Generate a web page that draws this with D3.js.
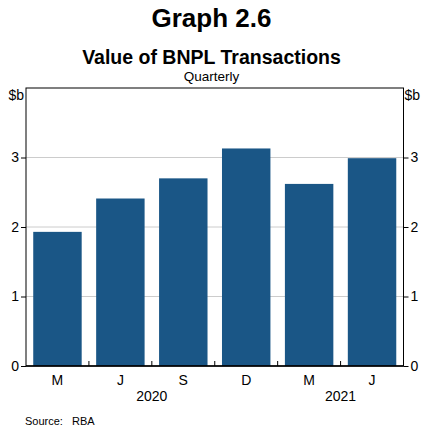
<!DOCTYPE html>
<html>
<head>
<meta charset="utf-8">
<script src="https://cdn.jsdelivr.net/npm/d3@7"></script>
<style>
  body { margin: 0; background: #fff; }
  text { font-family: "Liberation Sans", Arial, sans-serif; fill: #000; }
</style>
</head>
<body>
<svg id="chart" width="423" height="433"></svg>
<script>
// Quarterly value of buy-now-pay-later transactions, $ billion
const quarters = ["M", "J", "S", "D", "M", "J"];
const years = ["2020", "2021"];
const yearBoundaryIndex = [2, 5]; // year label sits on the boundary before this quarter
const values = [1.93, 2.41, 2.70, 3.13, 2.62, 2.99];
const yTicks = [0, 1, 2, 3];

const svg = d3.select("#chart");
const W = 423, H = 433;
const m = { left: 26, right: 19.5, top: 88, bottom: 67 };
const x0 = m.left, x1 = W - m.right, y0 = H - m.bottom, yTop = m.top;
const labelSize = "14px";

const x = d3.scaleBand().domain(d3.range(quarters.length)).range([x0, x1])
  .paddingInner(0.23).paddingOuter(0.115);
const y = d3.scaleLinear().domain([0, 4]).range([y0, yTop]);

// titles
svg.append("text").attr("x", W / 2).attr("y", 27).attr("text-anchor", "middle")
  .style("font-size", "26px").style("font-weight", "bold").text("Graph 2.6");
svg.append("text").attr("x", W / 2).attr("y", 64).attr("text-anchor", "middle")
  .style("font-size", "19.5px").style("font-weight", "bold").text("Value of BNPL Transactions");
svg.append("text").attr("x", W / 2).attr("y", 81).attr("text-anchor", "middle")
  .style("font-size", "13.5px").text("Quarterly");

// gridlines
svg.append("g").selectAll("line").data(yTicks.filter(d => d > 0)).join("line")
  .attr("x1", x0).attr("x2", x1).attr("y1", d => y(d)).attr("y2", d => y(d))
  .attr("stroke", "#cccccc").attr("stroke-width", 1);

// bars
svg.append("g").selectAll("rect").data(values).join("rect")
  .attr("x", (d, i) => x(i)).attr("width", x.bandwidth())
  .attr("y", d => y(d)).attr("height", d => y0 - y(d))
  .attr("fill", "#1a5686");

// y axes (left and right), labels with short outward ticks
const leftAxis = d3.axisLeft(y).tickValues(yTicks).tickSize(5).tickPadding(2).tickFormat(d3.format("d"));
const rightAxis = d3.axisRight(y).tickValues(yTicks).tickSize(5).tickPadding(2).tickFormat(d3.format("d"));
const gl = svg.append("g").attr("transform", `translate(${x0},0)`).call(leftAxis);
const gr = svg.append("g").attr("transform", `translate(${x1},0)`).call(rightAxis);
[gl, gr].forEach(g => {
  g.select(".domain").remove();
  g.selectAll(".tick line").attr("stroke", "#000");
  g.selectAll(".tick text").style("font-size", labelSize)
    .style("font-family", "'Liberation Sans', Arial, sans-serif").attr("fill", "#000");
});

// unit labels
svg.append("text").attr("x", x0 - 2).attr("y", yTop + 12).attr("text-anchor", "end")
  .style("font-size", labelSize).text("$b");
svg.append("text").attr("x", x1 + 1).attr("y", yTop + 12).attr("text-anchor", "start")
  .style("font-size", labelSize).text("$b");

// x axis: category labels and inward ticks at quarter boundaries
const boundaries = d3.range(1, quarters.length).map(i => x0 + i * (x1 - x0) / quarters.length);
svg.append("g").selectAll("line").data(boundaries).join("line")
  .attr("x1", d => d).attr("x2", d => d).attr("y1", y0).attr("y2", y0 - 5)
  .attr("stroke", "#000");
svg.append("g").selectAll("text").data(quarters).join("text")
  .attr("x", (d, i) => x0 + (i + 0.5) * (x1 - x0) / quarters.length)
  .attr("y", y0 + 19).attr("text-anchor", "middle")
  .style("font-size", labelSize).text(d => d);
svg.append("g").selectAll("text").data(years).join("text")
  .attr("x", (d, i) => x0 + yearBoundaryIndex[i] * (x1 - x0) / quarters.length)
  .attr("y", y0 + 35).attr("text-anchor", "middle")
  .style("font-size", labelSize).text(d => d);

// frame
svg.append("rect").attr("x", x0).attr("y", yTop).attr("width", x1 - x0).attr("height", y0 - yTop)
  .attr("fill", "none").attr("stroke", "#000").attr("stroke-width", 1);
svg.append("line").attr("x1", x0).attr("x2", x1).attr("y1", y0).attr("y2", y0)
  .attr("stroke", "#000").attr("stroke-width", 1.6);

// source
svg.append("text").attr("x", 25).attr("y", 425).style("font-size", "11px").text("Source:");
svg.append("text").attr("x", 72).attr("y", 425).style("font-size", "11px").text("RBA");
</script>
</body>
</html>
